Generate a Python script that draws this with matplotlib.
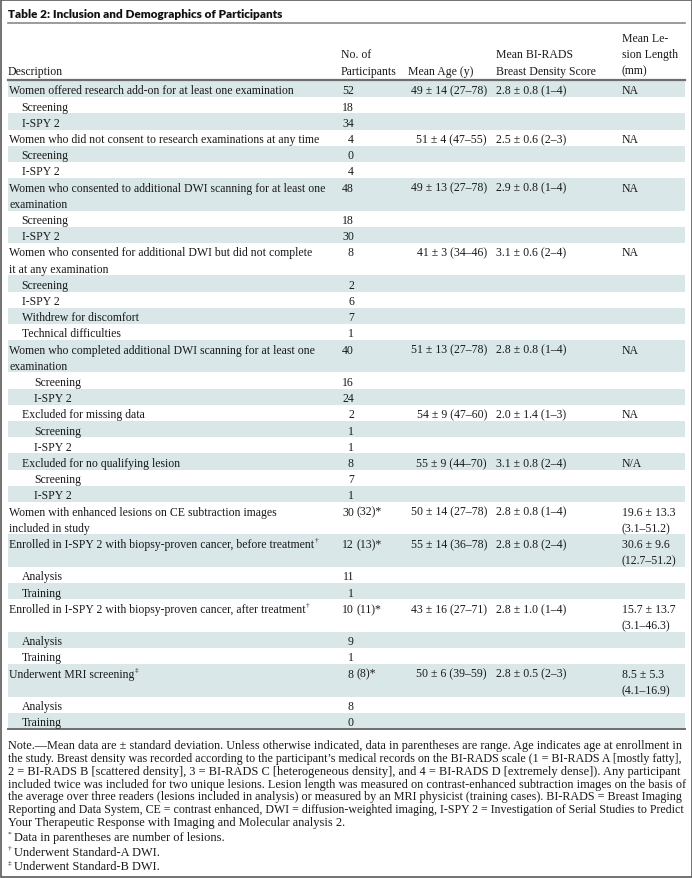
import matplotlib
matplotlib.use('Agg')
import matplotlib.pyplot as plt
from matplotlib.patches import Rectangle

# Table content
title = 'Table 2: Inclusion and Demographics of Participants'

header_desc = ['Description']
header_num = ['No. of', 'Participants']
header_age = ['Mean Age (y)']
header_bi = ['Mean BI-RADS', 'Breast Density Score']
header_les = ['Mean Le-', 'sion Length', '(mm)']

descriptions = [
    'Women offered research add-on for at least one examination',
    'Screening',
    'I-SPY 2',
    'Women who did not consent to research examinations at any time',
    'Screening',
    'I-SPY 2',
    'Women who consented to additional DWI scanning for at least one\nexamination',
    'Screening',
    'I-SPY 2',
    'Women who consented for additional DWI but did not complete\nit at any examination',
    'Screening',
    'I-SPY 2',
    'Withdrew for discomfort',
    'Technical difficulties',
    'Women who completed additional DWI scanning for at least one\nexamination',
    'Screening',
    'I-SPY 2',
    'Excluded for missing data',
    'Screening',
    'I-SPY 2',
    'Excluded for no qualifying lesion',
    'Screening',
    'I-SPY 2',
    'Women with enhanced lesions on CE subtraction images\nincluded in study',
    'Enrolled in I-SPY 2 with biopsy-proven cancer, before treatment',
    'Analysis',
    'Training',
    'Enrolled in I-SPY 2 with biopsy-proven cancer, after treatment',
    'Analysis',
    'Training',
    'Underwent MRI screening',
    'Analysis',
    'Training',
]
desc_marks = [''] * 24 + ['\u2020', '', '', '\u2020', '', '', '\u2021', '', '']
levels = [0, 1, 1, 0, 1, 1, 0, 1, 1, 0, 1, 1, 1, 1, 0, 2, 2, 1, 2, 2, 1, 2, 2,
          0, 0, 1, 1, 0, 1, 1, 0, 1, 1]
counts = ['52', '18', '34', '4', '0', '4', '48', '18', '30', '8', '2', '6', '7',
          '1', '40', '16', '24', '2', '1', '1', '8', '7', '1', '30 (32)*',
          '12 (13)*', '11', '1', '10 (11)*', '9', '1', '8 (8)*', '8', '0']
ages = ['49 \u00b1 14 (27\u201378)', '', '', '51 \u00b1 4 (47\u201355)', '', '',
        '49 \u00b1 13 (27\u201378)', '', '', '41 \u00b1 3 (34\u201346)', '', '', '', '',
        '51 \u00b1 13 (27\u201378)', '', '', '54 \u00b1 9 (47\u201360)', '', '',
        '55 \u00b1 9 (44\u201370)', '', '', '50 \u00b1 14 (27\u201378)',
        '55 \u00b1 14 (36\u201378)', '', '', '43 \u00b1 16 (27\u201371)', '', '',
        '50 \u00b1 6 (39\u201359)', '', '']
birads = ['2.8 \u00b1 0.8 (1\u20134)', '', '', '2.5 \u00b1 0.6 (2\u20133)', '', '',
          '2.9 \u00b1 0.8 (1\u20134)', '', '', '3.1 \u00b1 0.6 (2\u20134)', '', '', '', '',
          '2.8 \u00b1 0.8 (1\u20134)', '', '', '2.0 \u00b1 1.4 (1\u20133)', '', '',
          '3.1 \u00b1 0.8 (2\u20134)', '', '', '2.8 \u00b1 0.8 (1\u20134)',
          '2.8 \u00b1 0.8 (2\u20134)', '', '', '2.8 \u00b1 1.0 (1\u20134)', '', '',
          '2.8 \u00b1 0.5 (2\u20133)', '', '']
lesion = ['NA', '', '', 'NA', '', '', 'NA', '', '', 'NA', '', '', '', '',
          'NA', '', '', 'NA', '', '', 'N/A', '', '',
          '19.6 \u00b1 13.3\n(3.1\u201351.2)', '30.6 \u00b1 9.6\n(12.7\u201351.2)', '', '',
          '15.7 \u00b1 13.7\n(3.1\u201346.3)', '', '', '8.5 \u00b1 5.3\n(4.1\u201316.9)', '', '']

note_lines = [
    'Note.\u2014Mean data are \u00b1 standard deviation. Unless otherwise indicated, data in parentheses are range. Age indicates age at enrollment in',
    'the study. Breast density was recorded according to the participant\u2019s medical records on the BI-RADS scale (1 = BI-RADS A [mostly fatty],',
    '2 = BI-RADS B [scattered density], 3 = BI-RADS C [heterogeneous density], and 4 = BI-RADS D [extremely dense]). Any participant',
    'included twice was included for two unique lesions. Lesion length was measured on contrast-enhanced subtraction images on the basis of',
    'the average over three readers (lesions included in analysis) or measured by an MRI physicist (training cases). BI-RADS = Breast Imaging',
    'Reporting and Data System, CE = contrast enhanced, DWI = diffusion-weighted imaging, I-SPY 2 = Investigation of Serial Studies to Predict',
    'Your Therapeutic Response with Imaging and Molecular analysis 2.',
]
foot_marks = ['*', '\u2020', '\u2021']
foot_texts = ['Data in parentheses are number of lesions.',
              'Underwent Standard-A DWI.',
              'Underwent Standard-B DWI.']

# Layout (pixels)
W, H = 692, 879
LEFT, RIGHT = 8, 685
X_NUM, X_AGE, X_BI, X_LES = 354, 487, 496, 622
INDENT = 12.5
LINE = 16.2
FIRST = 90
SERIF = 'Liberation Serif'
FS = 8.5
FS_NOTE = 8.9
INK = '#1a1a1a'
BAND = '#d9e7e9'

fig = plt.figure(figsize=(W / 100, H / 100), dpi=100)
ax = fig.add_axes([0, 0, 1, 1])
ax.set_xlim(0, W)
ax.set_ylim(H, 0)
ax.axis('off')
renderer = fig.canvas.get_renderer()


def put(x, y, s, ha='left', size=FS, **kw):
    return ax.text(x, y, s, ha=ha, va='center_baseline', fontsize=size,
                   family=SERIF, color=INK, **kw)


def right_edge(t):
    return t.get_window_extent(renderer).x1


# title and rules
ax.text(LEFT, 13.5, title, ha='left', va='center_baseline', fontsize=8.5,
        family='Lato', weight='heavy', color='#111')
ax.plot([LEFT, RIGHT], [24, 24], color='#8a8a8a', lw=1.2)

# header, bottom-aligned at y=70
for x, lines in [(LEFT, header_desc), (X_NUM - 13, header_num),
                 (408, header_age), (X_BI, header_bi), (X_LES, header_les)]:
    for k, s in enumerate(lines):
        put(x, 70 - LINE * (len(lines) - 1 - k), s)
ax.plot([LEFT, RIGHT], [80.5, 80.5], color='#6e6e6e', lw=1.6)

# body rows
y = FIRST
for i, desc in enumerate(descriptions):
    dlines = desc.split('\n')
    llines = lesion[i].split('\n') if lesion[i] else []
    n = max(len(dlines), len(llines))
    top = y - LINE / 2
    bottom = y + LINE * (n - 1) + LINE / 2
    if i % 2 == 0:
        ax.add_patch(Rectangle((LEFT, top), RIGHT - LEFT, bottom - top,
                               facecolor=BAND, edgecolor='none', zorder=0))
    xd = LEFT + INDENT * levels[i] + 1
    for k, s in enumerate(dlines):
        t = put(xd, y + LINE * k, s)
    if desc_marks[i]:
        put(right_edge(t) + 0.5, y - 3.5, desc_marks[i], size=5.4)
    num, _, rest = counts[i].partition(' ')
    put(X_NUM, y, num, ha='right')
    if rest:
        put(X_NUM + 2.5, y, rest)
    if ages[i]:
        put(X_AGE, y, ages[i], ha='right')
    if birads[i]:
        put(X_BI, y, birads[i])
    for k, s in enumerate(llines):
        put(X_LES, y + LINE * k, s)
    y += LINE * n

rule_y = y - LINE / 2 + 0.5
ax.plot([LEFT, RIGHT], [rule_y, rule_y], color='#6e6e6e', lw=1.4)

# notes
ny = rule_y + 14
for s in note_lines:
    t = put(LEFT, ny, s, size=FS_NOTE)
    if right_edge(t) > RIGHT:
        t.set_fontsize(FS_NOTE * (RIGHT - LEFT) / (right_edge(t) - LEFT))
    ny += 12.9
ny += 2
for m, s in zip(foot_marks, foot_texts):
    put(LEFT, ny - 3, m, size=5.4)
    put(LEFT + 5.5, ny, s, size=FS_NOTE)
    ny += 14.6

# outer frame
ax.add_patch(Rectangle((0.5, 0.5), W - 1, H - 1, facecolor='none',
                       edgecolor='#5a5a5a', lw=1.2))

fig.savefig('out.png', dpi=100)
